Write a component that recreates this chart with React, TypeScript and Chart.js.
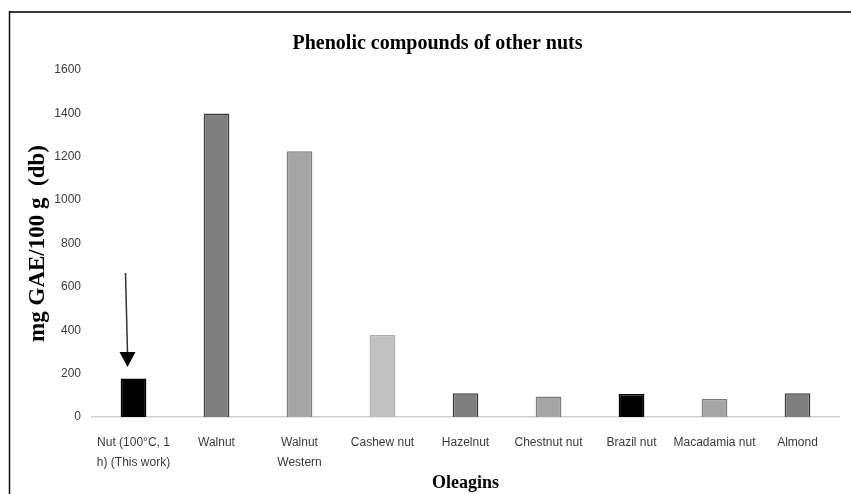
import React, { useEffect, useRef } from "react";
import { Chart, registerables } from "chart.js";

Chart.register(...registerables);

const categories: (string | string[])[] = [
  ["Nut (100°C, 1", "h) (This work)"],
  "Walnut",
  ["Walnut", "Western"],
  "Cashew nut",
  "Hazelnut",
  "Chestnut nut",
  "Brazil nut",
  "Macadamia nut",
  "Almond",
];
const phenolicValues: number[] = [178, 1400, 1225, 378, 109, 94, 106, 83, 109];
const barFills: string[] = ["#000000", "#7f7f7f", "#a5a5a5", "#c0c0c0", "#7f7f7f", "#a5a5a5", "#000000", "#a5a5a5", "#7f7f7f"];
const barBorders: string[] = ["#000000", "#3f3f3f", "#7c7c7c", "#ababab", "#3f3f3f", "#7c7c7c", "#000000", "#7c7c7c", "#3f3f3f"];
const yTickValues: number[] = [0, 200, 400, 600, 800, 1000, 1200, 1400, 1600];
const chartTitle = "Phenolic compounds of other nuts";
const yTitle = "mg GAE/100 g  (db)";
const xTitle = "Oleagins";
const arrowFrom = 664;
const arrowTo = 230;

const TICK_FONT = "'Liberation Sans', Arial, sans-serif";
const SERIF = "'Liberation Serif', 'Times New Roman', serif";

const framePlugin = {
  id: "frame",
  beforeDraw(chart: any) {
    const ctx = chart.ctx;
    ctx.save();
    ctx.fillStyle = "#ffffff";
    ctx.fillRect(0, 0, chart.width, chart.height);
    ctx.strokeStyle = "#3a3a3a";
    ctx.lineWidth = 2;
    ctx.beginPath();
    ctx.moveTo(9, 12);
    ctx.lineTo(chart.width, 12);
    ctx.stroke();
    ctx.strokeStyle = "#111111";
    ctx.lineWidth = 1.5;
    ctx.beginPath();
    ctx.moveTo(9.5, 11);
    ctx.lineTo(9.5, chart.height);
    ctx.stroke();
    ctx.restore();
  },
};

const arrowPlugin = {
  id: "arrow",
  afterDatasetsDraw(chart: any) {
    const ctx = chart.ctx;
    const xs = chart.scales.x;
    const ys = chart.scales.y;
    const x = xs.getPixelForValue(0) - 7;
    const y1 = ys.getPixelForValue(arrowFrom);
    const y2 = ys.getPixelForValue(arrowTo);
    const head = 15;
    ctx.save();
    ctx.strokeStyle = "#333333";
    ctx.lineWidth = 1.5;
    ctx.beginPath();
    ctx.moveTo(x - 1, y1);
    ctx.lineTo(x + 1, y2 - head + 1);
    ctx.stroke();
    ctx.fillStyle = "#000000";
    ctx.beginPath();
    ctx.moveTo(x + 1 - 8, y2 - head);
    ctx.lineTo(x + 1 + 8, y2 - head);
    ctx.lineTo(x + 1, y2);
    ctx.closePath();
    ctx.fill();
    ctx.restore();
  },
};

export default function App() {
  const ref = useRef<HTMLCanvasElement | null>(null);
  useEffect(() => {
    if (!ref.current) return;
    const chart = new Chart(ref.current, {
      type: "bar",
      data: {
        labels: categories,
        datasets: [
          {
            data: phenolicValues,
            backgroundColor: barFills,
            borderColor: barBorders,
            borderWidth: 1.5,
            categoryPercentage: 1,
            barPercentage: 0.31,
          },
        ],
      },
      options: {
        animation: false,
        responsive: false,
        maintainAspectRatio: false,
        layout: { padding: { left: 24, right: 0, top: 0, bottom: 0 } },
        plugins: {
          legend: { display: false },
          tooltip: { enabled: false },
          title: {
            display: true,
            text: chartTitle,
            color: "#000000",
            font: { family: SERIF, size: 20, weight: "bold", lineHeight: 1.2 },
            padding: { top: 32, bottom: 14 },
          },
        },
        scales: {
          x: {
            afterFit: (scale: any) => {
              scale.height = 77;
            },
            grid: { display: false, drawTicks: false },
            border: { display: true, color: "#d0d0d0", width: 1.5 },
            ticks: {
              color: "#3a3a3a",
              font: { family: TICK_FONT, size: 12, lineHeight: 1.7 },
              padding: 15,
              maxRotation: 0,
              minRotation: 0,
              autoSkip: false,
            },
            title: {
              display: true,
              text: xTitle,
              color: "#000000",
              font: { family: SERIF, size: 18, weight: "bold", lineHeight: 1.2 },
              padding: { top: 0, bottom: 0 },
            },
          },
          y: {
            min: 0,
            max: 1600,
            afterBuildTicks: (scale: any) => {
              scale.ticks = yTickValues.map((v) => ({ value: v }));
            },
            afterFit: (scale: any) => {
              scale.width = 68;
            },
            grid: { display: false, drawTicks: false },
            border: { display: false },
            ticks: {
              color: "#3a3a3a",
              font: { family: TICK_FONT, size: 12 },
              padding: 11,
              callback: (v: any) => String(v),
            },
            title: {
              display: true,
              text: yTitle,
              color: "#000000",
              font: { family: SERIF, size: 23, weight: "bold", lineHeight: 1.2 },
              padding: { top: 0, bottom: 0 },
            },
          },
          yRight: {
            position: "right",
            display: true,
            grid: { display: false, drawTicks: false },
            border: { display: false },
            ticks: { display: false },
            afterFit: (scale: any) => {
              scale.width = 12;
            },
          },
        },
      },
      plugins: [framePlugin, arrowPlugin],
    } as any);
    return () => chart.destroy();
  }, []);
  return (
    <div style={{ position: "absolute", left: 0, top: 0, width: 851, height: 494, overflow: "hidden" }}>
      <canvas ref={ref} width={851} height={494} style={{ width: 851, height: 494, display: "block" }} />
    </div>
  );
}
